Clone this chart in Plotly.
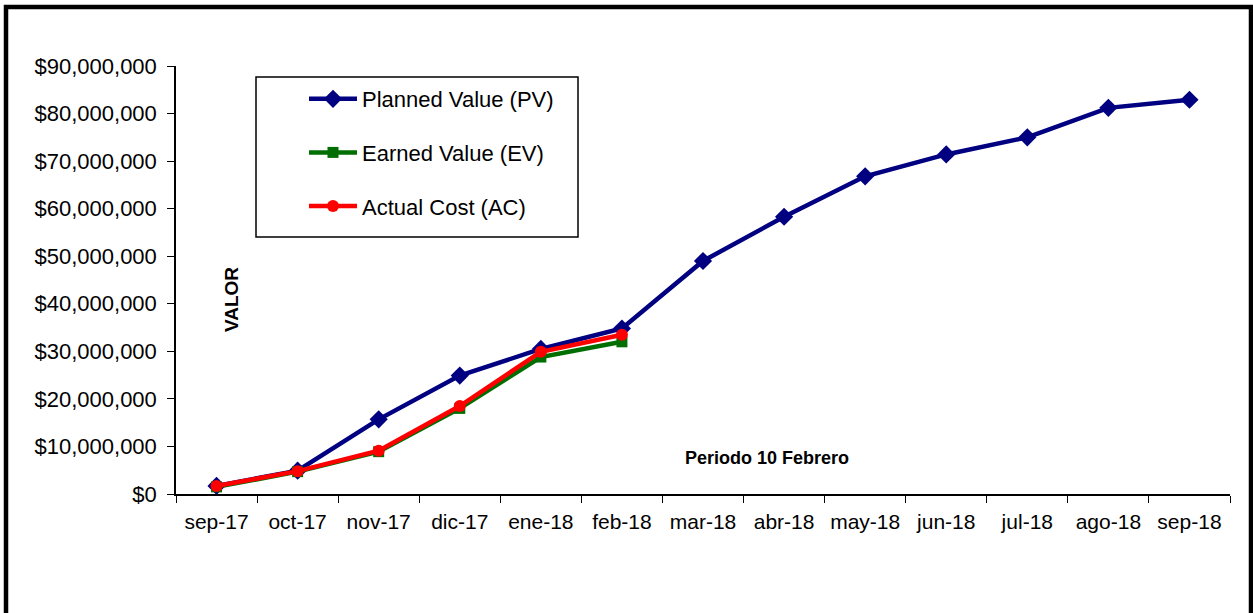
import plotly.graph_objects as go

months = ["sep-17", "oct-17", "nov-17", "dic-17", "ene-18", "feb-18", "mar-18",
          "abr-18", "may-18", "jun-18", "jul-18", "ago-18", "sep-18"]
pv = [1.7e6, 4.9e6, 15.7e6, 24.9e6, 30.5e6, 34.8e6, 49.0e6,
      58.3e6, 66.8e6, 71.4e6, 75.0e6, 81.2e6, 82.9e6]
ev = [1.5e6, 4.7e6, 8.9e6, 18.0e6, 28.8e6, 32.0e6]
ac = [1.7e6, 4.8e6, 9.1e6, 18.5e6, 29.9e6, 33.5e6]

FONT = "Arial, Liberation Sans, sans-serif"

# plot area in pixels: x 176..1230, y 66..494
L, R, T, B = 176, 1230, 66, 494
W, H = R - L, B - T

def px(x):
    return (x - L) / W

def py(y):
    return (B - y) / H

fig = go.Figure()
fig.add_trace(go.Scatter(x=months, y=pv, name="Planned Value (PV)", legendgroup="pv",
                         mode="lines+markers", line=dict(color="#000080", width=4.5),
                         marker=dict(symbol="diamond", size=14, color="#000080")))
fig.add_trace(go.Scatter(x=months[:len(ev)], y=ev, name="Earned Value (EV)", legendgroup="ev",
                         mode="lines+markers", line=dict(color="#006e00", width=4.5),
                         marker=dict(symbol="square", size=11, color="#006e00")))
fig.add_trace(go.Scatter(x=months[:len(ac)], y=ac, name="Actual Cost (AC)", legendgroup="ac",
                         mode="lines+markers", line=dict(color="#ff0000", width=4.5),
                         marker=dict(symbol="circle", size=12, color="#ff0000")))

shapes = [
    # outer frame
    dict(type="rect", xref="paper", yref="paper", x0=px(6), x1=px(1251), y0=py(640), y1=py(7),
         line=dict(color="black", width=4.5), layer="below"),
    # legend box
    dict(type="rect", xref="paper", yref="paper", x0=px(256), x1=px(578), y0=py(237), y1=py(77),
         line=dict(color="black", width=1.5)),
]

annotations = [
    dict(xref="paper", yref="paper", x=px(231), y=py(300), xanchor="center", yanchor="middle",
         text="<b>VALOR</b>", textangle=-90,
         showarrow=False, font=dict(family=FONT, size=19, color="black")),
    dict(xref="paper", yref="paper", x=px(767), y=py(458), xanchor="center", yanchor="middle",
         text="<b>Periodo 10 Febrero</b>",
         showarrow=False, font=dict(family=FONT, size=18, color="black")),
]

fig.update_layout(
    width=1253, height=613,
    margin=dict(l=L, r=1253 - R, t=T, b=613 - B),
    paper_bgcolor="white", plot_bgcolor="white",
    font=dict(family=FONT, size=22, color="black"),
    showlegend=True,
    legend=dict(x=px(304), y=py(78), xanchor="left", yanchor="top",
                bgcolor="rgba(0,0,0,0)", borderwidth=0,
                traceorder="grouped", tracegroupgap=22, itemwidth=48,
                font=dict(family=FONT, size=22, color="black")),
    shapes=shapes,
    annotations=annotations,
)
fig.update_xaxes(type="category", range=[-0.5, 12.5], tickson="boundaries",
                 ticks="outside", ticklen=7, tickcolor="black", tickangle=0,
                 ticklabelstandoff=8,
                 showline=True, linecolor="black", linewidth=1.5,
                 showgrid=False, zeroline=False,
                 tickfont=dict(family=FONT, size=21, color="black"))
fig.update_yaxes(range=[0, 90e6], dtick=10e6, tickformat=",.0f", tickprefix="$",
                 ticks="outside", ticklen=7, tickcolor="black",
                 ticklabelstandoff=6,
                 showline=True, linecolor="black", linewidth=1.5,
                 showgrid=False, zeroline=False,
                 tickfont=dict(family=FONT, size=22, color="black"))

fig.write_html("out.html",
               config={"displayModeBar": False, "responsive": False},
               post_script="document.body.style.margin='0';document.body.style.overflow='hidden';")
